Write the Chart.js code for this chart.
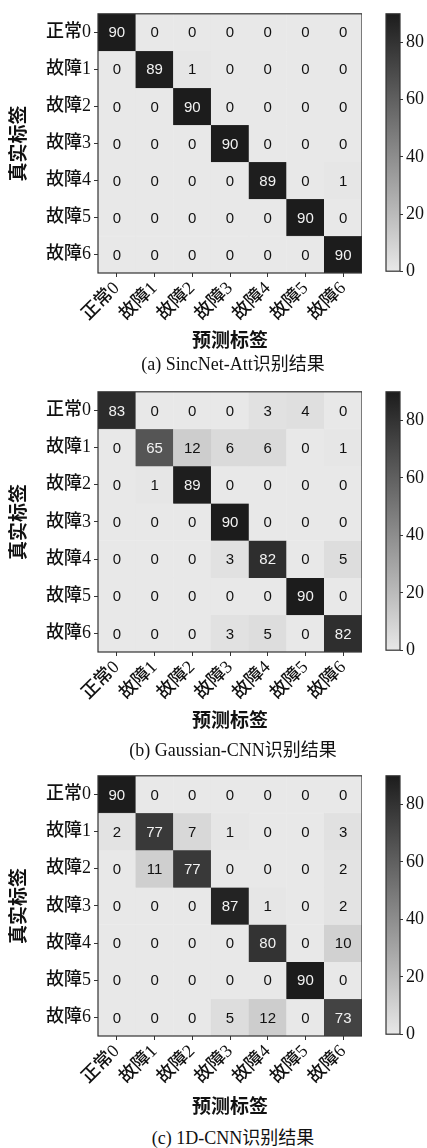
<!DOCTYPE html>
<html>
<head>
<meta charset="utf-8">
<script src="https://cdn.jsdelivr.net/npm/chart.js@4.4.1/dist/chart.umd.min.js"></script>
<style>
  body { margin: 0; background: #fff; width: 427px; height: 1148px; position: relative; overflow: hidden; }
  canvas { position: absolute; }
  .cap { position: absolute; left: 0; width: 466px; text-align: center; line-height: 22px;
         font: 18px "Liberation Serif", "Noto Sans CJK SC", serif; color: #111; }
</style>
</head>
<body>
<script>
// 类别标签
const labels = ['正常0', '故障1', '故障2', '故障3', '故障4', '故障5', '故障6'];

// (a) SincNet-Att 混淆矩阵（行：真实标签，列：预测标签）
const sincNetAtt = [
  [90, 0, 0, 0, 0, 0, 0],
  [0, 89, 1, 0, 0, 0, 0],
  [0, 0, 90, 0, 0, 0, 0],
  [0, 0, 0, 90, 0, 0, 0],
  [0, 0, 0, 0, 89, 0, 1],
  [0, 0, 0, 0, 0, 90, 0],
  [0, 0, 0, 0, 0, 0, 90]
];

// (b) Gaussian-CNN
const gaussianCnn = [
  [83, 0, 0, 0, 3, 4, 0],
  [0, 65, 12, 6, 6, 0, 1],
  [0, 1, 89, 0, 0, 0, 0],
  [0, 0, 0, 90, 0, 0, 0],
  [0, 0, 0, 3, 82, 0, 5],
  [0, 0, 0, 0, 0, 90, 0],
  [0, 0, 0, 3, 5, 0, 82]
];

// (c) 1D-CNN
const cnn1d = [
  [90, 0, 0, 0, 0, 0, 0],
  [2, 77, 7, 1, 0, 0, 3],
  [0, 11, 77, 0, 0, 0, 2],
  [0, 0, 0, 87, 1, 0, 2],
  [0, 0, 0, 0, 80, 0, 10],
  [0, 0, 0, 0, 0, 90, 0],
  [0, 0, 0, 5, 12, 0, 73]
];

const captions = ['(a) SincNet-Att识别结果', '(b) Gaussian-CNN识别结果', '(c) 1D-CNN识别结果'];
const colorbarTicks = [0, 20, 40, 60, 80];
const colorMax = 90;

// 版面位置
const panels = [
  { data: sincNetAtt,  top: 12,  h: 261, titleGap: 69, capY: 360 },
  { data: gaussianCnn, top: 390, h: 262, titleGap: 70, capY: 746 },
  { data: cnn1d,       top: 774, h: 262, titleGap: 72, capY: 1134 }
];

const serif = '"Liberation Serif", "Noto Sans CJK SC", serif';
const LIGHT = 232, DARK = 28;

function grayOf(v) {
  const g = Math.round(LIGHT - Math.min(v, colorMax) / colorMax * (LIGHT - DARK));
  return 'rgb(' + g + ',' + g + ',' + g + ')';
}

function makeCanvas(left, top, w, h) {
  const c = document.createElement('canvas');
  c.width = w; c.height = h;
  c.style.left = left + 'px'; c.style.top = top + 'px';
  c.style.width = w + 'px'; c.style.height = h + 'px';
  document.body.appendChild(c);
  return c;
}

const frame = {
  id: 'frame',
  afterDraw(chart) {
    const a = chart.chartArea, ctx = chart.ctx;
    ctx.save();
    ctx.strokeStyle = '#333';
    ctx.lineWidth = 1.2;
    ctx.strokeRect(a.left, a.top, a.right - a.left, a.bottom - a.top);
    ctx.restore();
  }
};

function drawPanel(p, idx) {
  const xAxisH = p.titleGap + 15;
  const cv = makeCanvas(0, p.top - 12, 362, 12 + p.h + xAxisH);

  // 数字标注
  const cellText = {
    id: 'cellText',
    afterDatasetsDraw(chart) {
      const ctx = chart.ctx;
      ctx.save();
      ctx.font = '15px "Liberation Sans", Arial, sans-serif';
      ctx.textAlign = 'center';
      ctx.textBaseline = 'middle';
      chart.data.datasets.forEach((ds, r) => {
        chart.getDatasetMeta(r).data.forEach((el, c) => {
          const v = p.data[r][c];
          ctx.fillStyle = v > 45 ? '#f2f2f2' : '#111';
          ctx.fillText(String(v), el.x, (el.y + el.base) / 2 + 1);
        });
      });
      ctx.restore();
    }
  };

  new Chart(cv.getContext('2d'), {
    type: 'bar',
    data: {
      labels: labels,
      datasets: p.data.map((row, r) => ({
        data: row.map(() => [r, r + 1]),
        backgroundColor: row.map(grayOf),
        borderColor: row.map(grayOf),
        borderWidth: 0.5,
        borderSkipped: false,
        barPercentage: 1,
        categoryPercentage: 1,
        grouped: false
      }))
    },
    options: {
      responsive: false,
      animation: false,
      devicePixelRatio: 1,
      layout: { padding: { top: 12, left: 0, right: 0, bottom: 0 } },
      plugins: { legend: { display: false }, tooltip: { enabled: false } },
      scales: {
        x: {
          type: 'category',
          grid: { offset: false, drawOnChartArea: false, tickLength: 4, color: '#333' },
          border: { display: false },
          ticks: { autoSkip: false, maxRotation: 45, minRotation: 45, padding: 1,
                   color: '#111', font: { family: serif, size: 18, weight: '500' } },
          title: { display: true, text: '预测标签', color: '#111',
                   padding: { top: 0, bottom: 4 }, font: { family: serif, size: 19, weight: 'bold' } },
          afterFit(axis) { axis.height = xAxisH; }
        },
        y: {
          type: 'linear',
          reverse: true,
          min: 0,
          max: labels.length,
          afterBuildTicks(axis) { axis.ticks = labels.map((l, i) => ({ value: i + 0.5 })); },
          grid: { drawOnChartArea: false, tickLength: 4, color: '#333' },
          border: { display: false },
          ticks: { autoSkip: false, padding: 3, color: '#111',
                   font: { family: serif, size: 18, weight: '500' },
                   callback: (v) => labels[Math.floor(v)] },
          title: { display: true, text: '真实标签', color: '#111',
                   padding: { top: 9, bottom: 0 }, font: { family: serif, size: 19, weight: 'bold' } },
          afterFit(axis) { axis.width = 98; }
        }
      }
    },
    plugins: [cellText, frame]
  });

  // 色条
  const cb = makeCanvas(380, p.top - 12, 47, 12 + p.h + 12);
  new Chart(cb.getContext('2d'), {
    type: 'bar',
    data: {
      labels: [''],
      datasets: [{
        data: [colorMax],
        barPercentage: 1,
        categoryPercentage: 1,
        backgroundColor(ctx) {
          const a = ctx.chart.chartArea;
          if (!a) return grayOf(0);
          const g = ctx.chart.ctx.createLinearGradient(0, a.bottom, 0, a.top);
          g.addColorStop(0, grayOf(0));
          g.addColorStop(1, grayOf(colorMax));
          return g;
        }
      }]
    },
    options: {
      responsive: false,
      animation: false,
      devicePixelRatio: 1,
      layout: { padding: { top: 12, left: 6, right: 0, bottom: 12 } },
      plugins: { legend: { display: false }, tooltip: { enabled: false } },
      scales: {
        x: { display: false },
        y: {
          position: 'right',
          min: 0,
          max: colorMax,
          afterBuildTicks(axis) { axis.ticks = colorbarTicks.map(v => ({ value: v })); },
          grid: { drawOnChartArea: false, tickLength: 3, color: '#333' },
          border: { display: false },
          ticks: { padding: 3, color: '#111', font: { family: serif, size: 18 } },
          afterFit(axis) { axis.width = 27; }
        }
      }
    },
    plugins: [frame]
  });

  const cap = document.createElement('div');
  cap.className = 'cap';
  cap.style.top = (p.capY - 11) + 'px';
  cap.textContent = captions[idx];
  document.body.appendChild(cap);
}

panels.forEach(drawPanel);
</script>
</body>
</html>
